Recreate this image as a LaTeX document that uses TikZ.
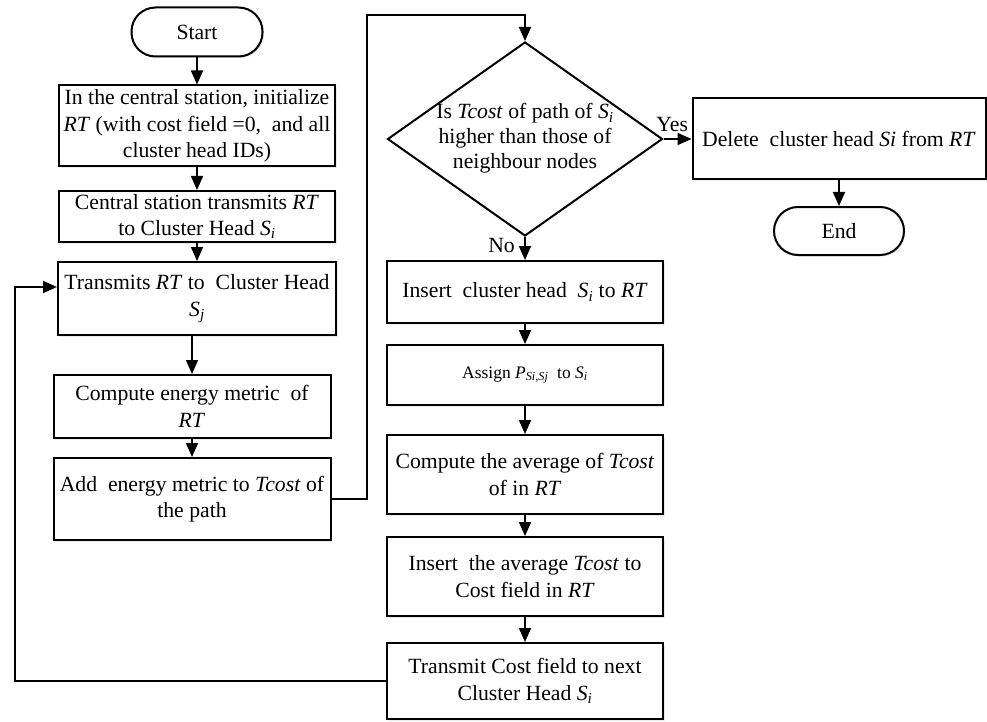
\documentclass[tikz,border=0pt]{standalone}
\usepackage{fontspec}
\setmainfont{Liberation Serif}
\usepackage{tikz}
\usetikzlibrary{shapes.geometric}
\usetikzlibrary{arrows.meta}
\usetikzlibrary{shadows}
\tikzstyle{term}=[rectangle,draw,fill=white,line width=2pt,rounded corners=24pt,minimum width=131pt,minimum height=49pt,font=\fontsize{21.7}{26}\selectfont,drop shadow={shadow xshift=1.5pt,shadow yshift=-1.5pt,opacity=0.15}]
\tikzstyle{proc}=[rectangle,draw,fill=white,line width=2pt,minimum width=276pt,align=center,inner sep=0pt,font=\fontsize{21.7}{26.5}\selectfont,drop shadow={shadow xshift=1.5pt,shadow yshift=-1.5pt,opacity=0.15}]
\tikzstyle{cond}=[diamond,draw,fill=white,line width=2pt,minimum width=275pt,minimum height=194pt,inner sep=0pt,font=\fontsize{21.7}{25}\selectfont]
\tikzstyle{flow}=[line width=1.8pt,-{Triangle[length=14pt,width=12pt]}]
\newcommand*{\Si}{\textit{S\textsubscript{i}}}

\begin{document}
\begin{tikzpicture}[x=1pt,y=-1pt]
  \useasboundingbox (0,0) rectangle (987,722);
  % left column
  \node[term] (start) at (197,32) {Start};
  \node[proc,minimum height=81pt] (init) at (197,126) {In the central station, initialize\\\textit{RT} (with cost field =0,\ \ and all\\cluster head IDs)};
  \node[proc,minimum height=51pt] (send) at (197,216.5) {Central station transmits \textit{RT}\\to Cluster Head \Si};
  \node[proc,minimum width=278pt,minimum height=73pt] (trans) at (197,298.5) {Transmits \textit{RT} to\ \ Cluster Head\\\textit{S\textsubscript{j}}};
  \node[proc,minimum width=277pt,minimum height=63pt] (metric) at (192,406.5) {Compute energy metric\ \ of\\\textit{RT}};
  \node[proc,minimum width=277pt,minimum height=82pt] (add) at (192,499) {Add\ \ energy metric to \textit{Tcost} of\\the path};

  % right column
  \node[cond] (check) at (525,139) {\makebox[0pt]{\begin{tabular}{@{}c@{}}Is \textit{Tcost} of path of \Si\\higher than those of\\neighbour nodes\end{tabular}}};
  \node[proc,minimum height=62pt] (ins) at (525,292) {Insert\ \ cluster head\ \ \Si{} to \textit{RT}};
  \node[proc,minimum height=60pt,font=\fontsize{17.5}{20}\selectfont] (assign) at (525,375) {Assign \textit{P\textsubscript{Si,Sj}}\ \ to \Si};
  \node[proc,minimum height=79pt] (avg) at (525,474.5) {Compute the average of \textit{Tcost}\\of in \textit{RT}};
  \node[proc,minimum height=79pt] (put) at (525,576.5) {Insert\ \ the average \textit{Tcost} to\\Cost field in \textit{RT}};
  \node[proc,minimum height=76pt] (next) at (525,681) {Transmit Cost field to next\\Cluster Head \Si};

  % yes branch
  \node[proc,minimum width=293pt,minimum height=81pt] (del) at (839,139) {Delete\ \ cluster head \textit{Si} from \textit{RT}};
  \node[term,minimum width=130pt,minimum height=48pt] (end) at (839,231) {End};

  \coordinate (upper) at (367,15);
  \coordinate (loop) at (15,287);

  \draw[flow] (start) -- (init);
  \draw[flow] (init) -- (send);
  \draw[flow] (send) -- (trans);
  \draw[flow] (trans.south -| metric) -- (metric);
  \draw[flow] (metric) -- (add);
  \draw[flow] (add.east) -| (upper) -| (check.north);
  \draw[flow] (check.south) -- node[left=6pt,font=\fontsize{21.7}{25}\selectfont,pos=0.35] (no) {No} (ins);
  \draw[flow] (check.east) -- node[pos=0,anchor=south west,xshift=-9pt,yshift=5pt,inner sep=1pt,font=\fontsize{21.7}{25}\selectfont] (yes) {Yes} (check.east -| del.west);
  \foreach \from/\to in {ins/assign,assign/avg,avg/put,put/next,del/end} {
    \draw[flow] (\from) -- (\to);
  }
  \draw[flow] (next.west) -| (loop) -- (loop -| trans.west);
\end{tikzpicture}
\end{document}
